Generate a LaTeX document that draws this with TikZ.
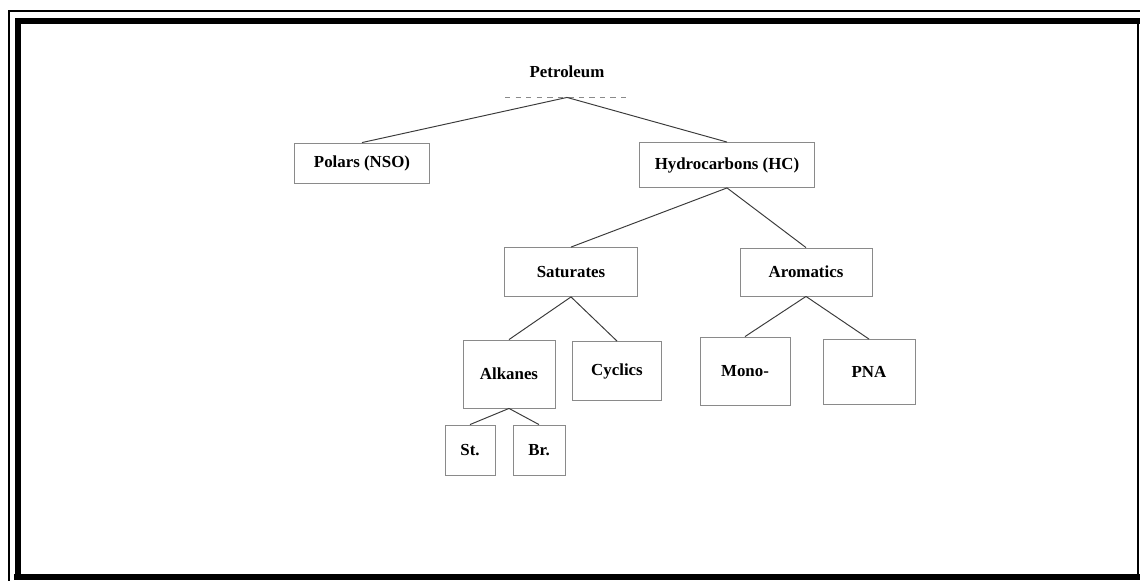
\documentclass[tikz,border=0pt]{standalone}
\usepackage{fontspec}
\setmainfont{Liberation Serif}
\usetikzlibrary{positioning}
\definecolor{boxgray}{HTML}{8A8A8A}
\definecolor{inkgray}{HTML}{3A3A3A}
\tikzset{
  classbox/.style={
    draw=boxgray,
    line width=0.5pt,
    align=center,
    inner sep=2pt,
    font=\fontsize{9.6}{11}\selectfont\bfseries
  },
  branch/.style={
    draw=inkgray,
    line width=0.55pt
  },
  framethin/.style={
    draw=black,
    line width=1pt
  },
  framethick/.style={
    draw=black,
    line width=3pt
  }
}
\begin{document}
\begin{tikzpicture}[x=0.02cm, y=-0.02cm]
    \useasboundingbox (0,0) rectangle (1140,581);
    % frame
    \draw[framethin] (9,581) -- (9,11) -- (1140,11);
    \draw[framethick] (18,578) -- (18,21) -- (1140,21);
    \draw[framethick] (14,577) -- (1140,577);
    \draw[framethin] (1138,21) -- (1138,578);

    % tree
    \node[classbox, draw=none, minimum width=2.46cm, minimum height=1.0cm] (petroleum) at (567,72) {Petroleum};
    \draw[boxgray, dashed, line width=0.5pt] (petroleum.south west) -- (petroleum.south east);

    \node[classbox, minimum width=2.7cm, minimum height=0.8cm] (polars) at (362,163) {Polars (NSO)};
    \node[classbox, minimum width=3.5cm, minimum height=0.9cm] (hydrocarbons) at (727,165) {Hydrocarbons (HC)};

    \node[classbox, minimum width=2.66cm, minimum height=0.98cm] (saturates) at (571,272) {Saturates};
    \node[classbox, minimum width=2.64cm, minimum height=0.96cm] (aromatics) at (806,272) {Aromatics};

    \node[classbox, minimum width=1.84cm, minimum height=1.36cm] (alkanes) at (509,374) {Alkanes};
    \node[classbox, minimum width=1.78cm, minimum height=1.18cm] (cyclics) at (617,371) {Cyclics};
    \node[classbox, minimum width=1.8cm, minimum height=1.36cm] (mono) at (745,371) {Mono-};
    \node[classbox, minimum width=1.84cm, minimum height=1.3cm] (pna) at (869,372) {PNA};

    \node[classbox, minimum width=1.0cm, minimum height=1.0cm] (straight) at (470,450) {St.};
    \node[classbox, minimum width=1.04cm, minimum height=1.0cm] (branched) at (539,450) {Br.};

    \draw[branch] (petroleum.south) -- (polars.north);
    \draw[branch] (petroleum.south) -- (hydrocarbons.north);
    \draw[branch] (hydrocarbons.south) -- (saturates.north);
    \draw[branch] (hydrocarbons.south) -- (aromatics.north);
    \draw[branch] (saturates.south) -- (alkanes.north);
    \draw[branch] (saturates.south) -- (cyclics.north);
    \draw[branch] (aromatics.south) -- (mono.north);
    \draw[branch] (aromatics.south) -- (pna.north);
    \draw[branch] (alkanes.south) -- (straight.north);
    \draw[branch] (alkanes.south) -- (branched.north);
\end{tikzpicture}
\end{document}
